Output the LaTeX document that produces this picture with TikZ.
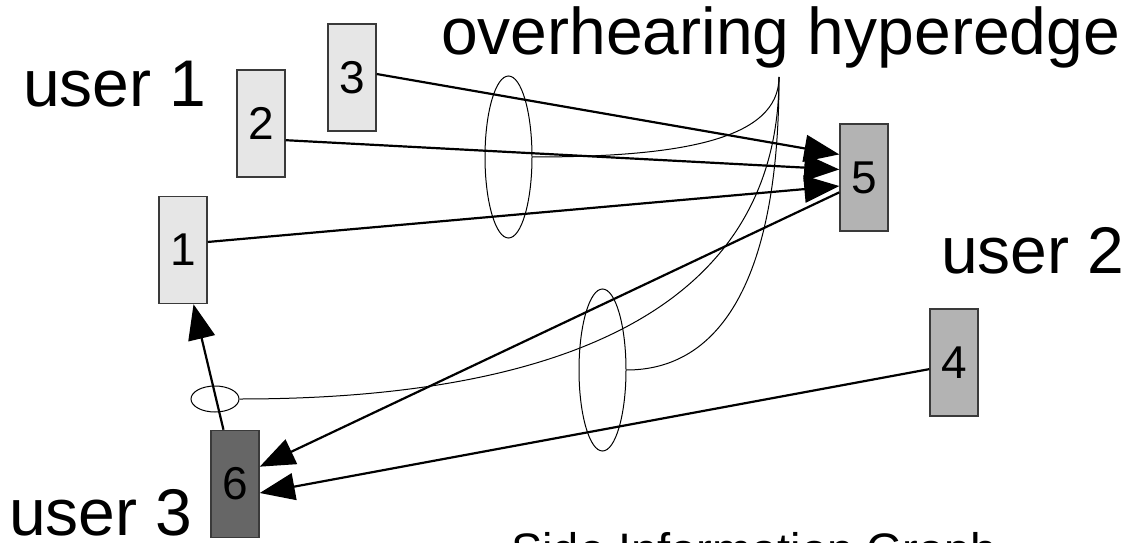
\documentclass[tikz,border=0pt]{standalone}
\usepackage{fontspec}
\setmainfont{Liberation Sans}
\usepackage{tikz}
\usetikzlibrary{arrows.meta,shapes.geometric}
\definecolor{lightbox}{HTML}{E6E6E6}
\definecolor{midbox}{HTML}{B3B3B3}
\definecolor{darkbox}{HTML}{666666}
\definecolor{edgegray}{HTML}{3A3A3A}
\tikzset{
  ar/.style={-{Triangle[length=35pt,width=27pt]},line width=2.2pt},
  box/.style={draw=edgegray,line width=1.5pt,minimum width=48pt,minimum height=107pt,inner sep=0pt,font=\fontsize{46}{46}\selectfont},
  hyp/.style={draw,ellipse,line width=1pt,inner sep=0pt},
  link/.style={line width=1pt},
  lbl/.style={anchor=base west,inner sep=0pt,font=\fontsize{66}{66}\selectfont}
}

\begin{document}
\begin{tikzpicture}[x=1pt,y=1pt]
\useasboundingbox (0,0) rectangle (1124,542);
\node[box,fill=lightbox] (n3) at (352,464.5) {3};
\node[box,fill=lightbox] (n2) at (261,418.5) {2};
\node[box,fill=lightbox] (n1) at (183,292) {1};
\node[box,fill=midbox] (n5) at (864,364.5) {5};
\node[box,fill=midbox] (n4) at (954,179.5) {4};
\node[box,fill=darkbox] (n6) at (235,58) {6};
\node[hyp,minimum width=47pt,minimum height=162pt] (e1) at (508.5,385) {};
\node[hyp,minimum width=47pt,minimum height=162pt] (e2) at (602.5,172) {};
\node[hyp,minimum width=48pt,minimum height=26pt] (e3) at (215,143) {};
\coordinate (hub) at (779,465);
\draw[link] (e1.east) .. controls (680,385) and (779,402) .. (hub);
\draw[link] (e2.east) .. controls (720,172) and (779,262) .. (hub);
\draw[link] (e3.east) .. controls (520,143) and (779,212) .. (hub);
\draw[ar] (n3.8) -- (n5.137);
\draw[ar] (n2.-34.5) -- (n5.162.6);
\draw[ar] (n1.18.4) -- (n5.199.5);
\draw[ar] (n5.211.1) -- (n6.35.3);
\draw[ar] (n4.195.2) -- (n6.-20.6);
\draw[ar] (n6.102.8) -- (n1.-79.3);
\node[lbl] (u1) at (23,435) {user 1};
\node[lbl] (u2) at (941,269) {user 2};
\node[lbl] (u3) at (9,7) {user 3};
\node[lbl] (oh) at (441,487) {overhearing hyperedge};
\node[lbl,font=\fontsize{47}{47}\selectfont] (cap) at (511,-24) {Side Information Graph};
\end{tikzpicture}
\end{document}
